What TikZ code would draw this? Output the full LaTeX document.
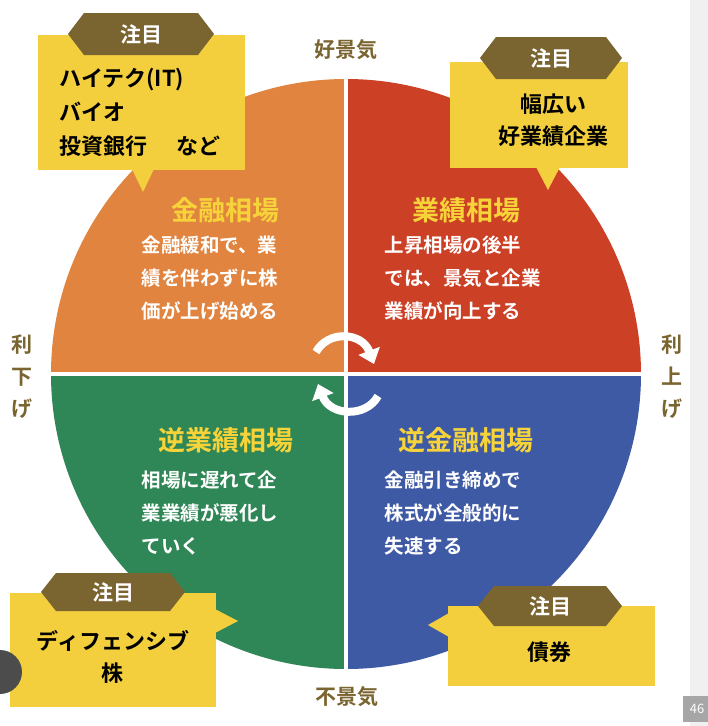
\documentclass[tikz,border=0pt]{standalone}
\usepackage{fontspec}
\setmainfont{Noto Sans CJK JP}[BoldFont={* Bold}]
\usetikzlibrary{arrows.meta}
\definecolor{qor}{HTML}{E0843F}
\definecolor{qrd}{HTML}{CC4026}
\definecolor{qgr}{HTML}{2F8656}
\definecolor{qbl}{HTML}{3F5AA4}
\definecolor{ylw}{HTML}{F3CF3E}
\definecolor{olv}{HTML}{7A6430}
\definecolor{ttl}{HTML}{F7D33A}
\tikzset{
 callout/.style={fill=ylw,draw=none},
 hexa/.style={fill=olv,draw=none},
 tag/.style={text=white,font=\fontsize{21}{24}\selectfont\bfseries},
 boxtxt/.style={text=black,font=\fontsize{22}{32}\selectfont\bfseries,align=center},
 qtitle/.style={text=ttl,font=\fontsize{27}{30}\selectfont\bfseries},
 qbody/.style={text=white,font=\fontsize{19.5}{33}\selectfont\bfseries,align=left,anchor=north west},
 side/.style={text=olv,font=\fontsize{21}{24}\selectfont\bfseries},
 cyc/.style={draw=white,line width=8pt,-{Triangle[length=14pt,width=22pt]}}
}
\begin{document}
\begin{tikzpicture}[x=1pt,y=-1pt]
\useasboundingbox (0,0) rectangle (708,726);
\fill[white] (0,0) rectangle (708,726);
\fill[gray!12] (690,0) rectangle (708,726);
% quadrants
\coordinate (c) at (346,374);
\fill[qrd] (c) -- (641,374) arc[start angle=0,end angle=-90,radius=295] -- cycle;
\fill[qor] (c) -- (346,79) arc[start angle=-90,end angle=-180,radius=295] -- cycle;
\fill[qgr] (c) -- (51,374) arc[start angle=180,end angle=90,radius=295] -- cycle;
\fill[qbl] (c) -- (346,669) arc[start angle=90,end angle=0,radius=295] -- cycle;
\draw[white,line width=4pt] (346,70) -- (346,680);
\draw[white,line width=4pt] (40,374) -- (650,374);
% cycle arrows
\draw[cyc] (316,352) .. controls (328,330) and (362,332) .. (374,364);
\draw[cyc] (378,396) .. controls (366,418) and (330,416) .. (318,384);
% quadrant texts
\node[qtitle] (t1) at (225,210) {金融相場};
\node[qbody] (b1) at (138,232) {金融緩和で、業\\績を伴わずに株\\価が上げ始める};
\node[qtitle] (t2) at (466,210) {業績相場};
\node[qbody] (b2) at (381,232) {上昇相場の後半\\では、景気と企業\\業績が向上する};
\node[qtitle] (t3) at (226,440) {逆業績相場};
\node[qbody] (b3) at (138,467) {相場に遅れて企\\業業績が悪化し\\ていく};
\node[qtitle] (t4) at (466,440) {逆金融相場};
\node[qbody] (b4) at (381,467) {金融引き締めで\\株式が全般的に\\失速する};
% side labels
\node[side] (good) at (346,50) {好景気};
\node[side] (bad) at (347,697) {不景気};
\node[side,align=center,font=\fontsize{21}{32}\selectfont\bfseries] (down) at (22,377) {利\\下\\げ};
\node[side,align=center,font=\fontsize{21}{32}\selectfont\bfseries] (up) at (672,377) {利\\上\\げ};
% callout TL
\fill[callout] (38,35) rectangle (245,170);
\fill[callout] (132,169) -- (143,192) -- (154,169) -- cycle;
\fill[hexa] (68,34) -- (84,13) -- (198,13) -- (214,34) -- (198,55) -- (84,55) -- cycle;
\node[tag] (z1) at (141,34) {注目};
\node[boxtxt,align=left,anchor=west,font=\fontsize{22}{34}\selectfont\bfseries] (w1) at (56,112) {ハイテク(IT)\\バイオ\\投資銀行\hspace{1.3em}など};
% callout TR
\fill[callout] (450,62) rectangle (628,168);
\fill[callout] (536,167) -- (548,190) -- (560,167) -- cycle;
\fill[hexa] (480,58) -- (496,37) -- (606,37) -- (622,58) -- (606,79) -- (496,79) -- cycle;
\node[tag] (z2) at (551,58) {注目};
\node[boxtxt] (w2) at (553,120) {幅広い\\好業績企業};
% callout BL
\fill[callout] (10,593) rectangle (216,707);
\fill[callout] (215,609) -- (238,621) -- (215,633) -- cycle;
\fill[hexa] (41,592) -- (56,573) -- (170,573) -- (185,592) -- (170,611) -- (56,611) -- cycle;
\node[tag] (z3) at (113,592) {注目};
\node[boxtxt] (w3) at (113,657) {ディフェンシブ\\株};
% callout BR
\fill[callout] (448,606) rectangle (655,686);
\fill[callout] (449,613) -- (428,625) -- (449,637) -- cycle;
\fill[hexa] (478,606) -- (494,586) -- (606,586) -- (622,606) -- (606,626) -- (494,626) -- cycle;
\node[tag] (z4) at (550,606) {注目};
\node[boxtxt] (w4) at (549,652) {債券};
% screenshot artifacts
\fill[gray!60!black] (0,650) arc[start angle=-90,end angle=90,radius=22] -- cycle;
\fill[gray!70] (683,696) rectangle (708,722);
\node[text=white,font=\fontsize{13}{14}\selectfont] (pg) at (697,709) {46};
\end{tikzpicture}
\end{document}
